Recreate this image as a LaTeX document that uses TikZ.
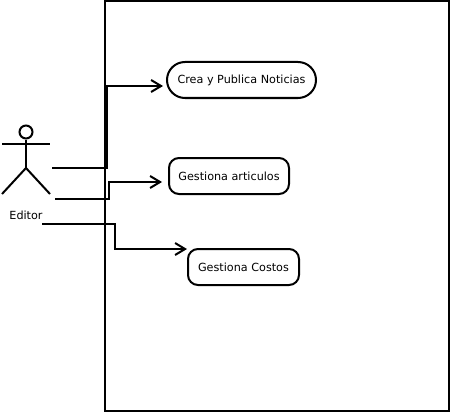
\documentclass[tikz,border=0pt]{standalone}
\usepackage{fontspec}
\setmainfont{DejaVu Sans}
\usetikzlibrary{arrows.meta}
\tikzset{
  ln/.style={draw=black,line width=2pt},
  usecase/.style={ln,fill=white,minimum height=36pt,inner sep=0pt,font=\fontsize{11.2pt}{13pt}\selectfont},
  conn/.style={ln,-{Straight Barb[length=10pt,width=12pt,line width=2pt]}},
  lab/.style={font=\fontsize{11.2pt}{13pt}\selectfont,inner sep=0pt}
}
\begin{document}
\begin{tikzpicture}[x=1pt,y=-1pt]
\useasboundingbox (0,0) rectangle (450,412);
\node[ln,minimum width=344pt,minimum height=410pt,inner sep=0pt] (system) at (277,206) {};
% actor
\node[ln,circle,minimum size=13pt,inner sep=0pt] (head) at (26,132) {};
\coordinate (hip) at (26,168);
\coordinate (larm) at (2,144);
\coordinate (rarm) at (50,144);
\coordinate (lfoot) at (2,194);
\coordinate (rfoot) at (50,194);
\draw[ln] (head) -- (hip);
\draw[ln] (larm) -- (rarm);
\draw[ln] (lfoot) -- (hip) -- (rfoot);
\node[lab] (editor) at (26,215) {Editor};
% use cases
\node[usecase,rounded corners=18pt,minimum width=149pt] (uc1) at (241.5,80) {Crea y Publica Noticias};
\node[usecase,rounded corners=10pt,minimum width=120pt] (uc2) at (229,176) {Gestiona articulos};
\node[usecase,rounded corners=10pt,minimum width=111pt] (uc3) at (243.5,267) {Gestiona Costos};
% connector ends
\coordinate (s1) at (52,168);
\coordinate (s2) at (55,199);
\coordinate (s3) at (42,224);
\coordinate (e1) at (163,86);
\coordinate (e2) at (162,182);
\coordinate (e3) at (187,249);
\draw[conn] (s1) -- ++(55,0) |- (e1);
\draw[conn] (s2) -- ++(54,0) |- (e2);
\draw[conn] (s3) -- ++(73,0) |- (e3);
\end{tikzpicture}
\end{document}
